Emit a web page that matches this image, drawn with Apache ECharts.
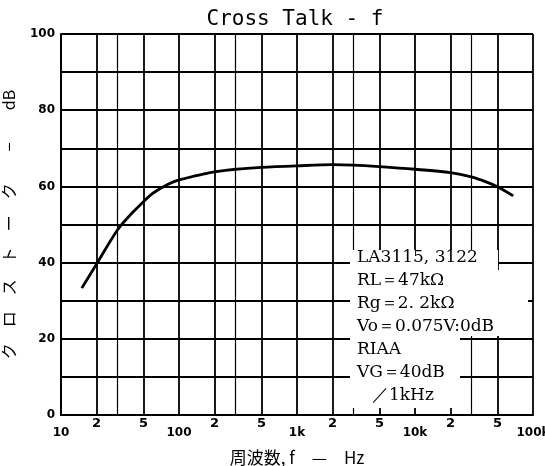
<!DOCTYPE html>
<html>
<head>
<meta charset="utf-8">
<script src="https://cdn.jsdelivr.net/npm/echarts@6/dist/echarts.min.js"></script>
<style>
  html, body { margin: 0; padding: 0; background: #fff; }
  #chart { width: 545px; height: 466px; }
</style>
</head>
<body>
<div id="chart"></div>
<script>
// crosstalk curve
const freqs = [15, 20, 30, 40, 50, 60, 80, 100, 130, 160, 200, 300, 500, 1000, 2000, 3000, 5000, 10000, 20000, 30000, 40000, 50000, 68000];
const crossTalk = [33.3, 39.6, 48.5, 53.0, 56.0, 58.2, 60.5, 61.7, 62.6, 63.2, 63.8, 64.5, 65.0, 65.4, 65.7, 65.6, 65.2, 64.5, 63.6, 62.5, 61.2, 59.9, 57.5];

// decade labels and the in-between grid lines (2, 3, 5 of each decade)
const decadeLabels = { 10: '10', 100: '100', 1000: '1k', 10000: '10k', 100000: '100k' };
const minorLines = [20, 30, 50, 200, 300, 500, 2000, 3000, 5000, 20000, 30000, 50000];

const noteLines = ['LA3115, 3122', 'RL＝47kΩ', 'Rg＝2. 2kΩ', 'Vo＝0.075V:0dB', 'RIAA', 'VG＝40dB', '／1kHz'];

const chart = echarts.init(document.getElementById('chart'));

const gridLine = { color: '#000', width: 1.8 };

function minorLabel(f) {
  const lead = String(f)[0];
  return lead === '3' ? '' : lead;
}

const option = {
  animation: false,
  backgroundColor: '#fff',
  title: {
    text: 'Cross Talk - f',
    left: 290,
    textAlign: 'center',
    top: 4,
    textStyle: { fontFamily: 'DejaVu Sans Mono', fontSize: 21, fontWeight: 'normal', color: '#000' }
  },
  grid: { left: 61, right: 12, top: 34, bottom: 51, outerBoundsMode: 'none' },
  xAxis: {
    type: 'log',
    logBase: 10,
    min: 10,
    max: 100000,
    name: '周波数, f　—　Hz',
    nameLocation: 'middle',
    nameGap: 34,
    nameTextStyle: { fontFamily: 'Noto Sans CJK JP', fontSize: 17, color: '#000' },
    axisLine: { lineStyle: { color: '#000', width: 2 } },
    axisTick: { show: false },
    axisLabel: {
      margin: 12,
      color: '#000',
      fontWeight: 'bold',
      fontSize: 12,
      fontFamily: 'DejaVu Sans',
      formatter: v => decadeLabels[Math.round(v)] || ''
    },
    splitLine: { show: true, lineStyle: gridLine },
    minorSplitLine: { show: false }
  },
  yAxis: {
    type: 'value',
    min: 0,
    max: 100,
    interval: 10,
    name: 'ク　ロ　ス　ト　ー　ク　　−　　dB',
    nameLocation: 'middle',
    nameRotate: 90,
    nameGap: 44,
    nameTextStyle: { fontFamily: 'Noto Sans CJK JP', fontSize: 16, color: '#000' },
    axisLine: { lineStyle: { color: '#000', width: 2 } },
    axisTick: { show: false },
    axisLabel: {
      margin: 6,
      color: '#000',
      fontWeight: 'bold',
      fontSize: 12,
      fontFamily: 'DejaVu Sans',
      formatter: v => (v % 20 === 0 ? String(v) : '')
    },
    splitLine: { show: true, lineStyle: gridLine }
  },
  series: [
    {
      type: 'line',
      data: freqs.map((f, i) => [f, crossTalk[i]]),
      smooth: 0.3,
      showSymbol: false,
      lineStyle: { color: '#000', width: 2.8 },
      z: 5,
      markLine: {
        silent: true,
        symbol: ['none', 'none'],
        animation: false,
        label: {
          show: true,
          position: 'start',
          distance: 2,
          color: '#000',
          fontWeight: 'bold',
          fontSize: 13,
          fontFamily: 'DejaVu Sans',
          formatter: p => minorLabel(p.value)
        },
        lineStyle: { type: 'solid', color: '#000', width: 1.8 },
        data: minorLines.map(f => ({
          xAxis: f,
          lineStyle: { type: 'solid', color: '#000', width: String(f)[0] === '3' ? 1.2 : 1.8 }
        }))
      }
    }
  ],
  graphic: [
    {
      type: 'polygon',
      z: 100,
      silent: true,
      shape: {
        points: [[350, 250], [498, 250], [498, 270], [528, 270], [528, 336], [460, 336], [460, 408], [350, 408]]
      },
      style: { fill: '#fff' }
    }
  ].concat(noteLines.map((t, i) => ({
    type: 'text',
    z: 101,
    silent: true,
    x: i === noteLines.length - 1 ? 372 : 357,
    y: 258 + i * 23,
    style: {
      text: t,
      fontFamily: 'DejaVu Serif',
      fontSize: 17,
      fill: '#000',
      verticalAlign: 'middle'
    }
  })))
};

chart.setOption(option);
</script>
</body>
</html>
